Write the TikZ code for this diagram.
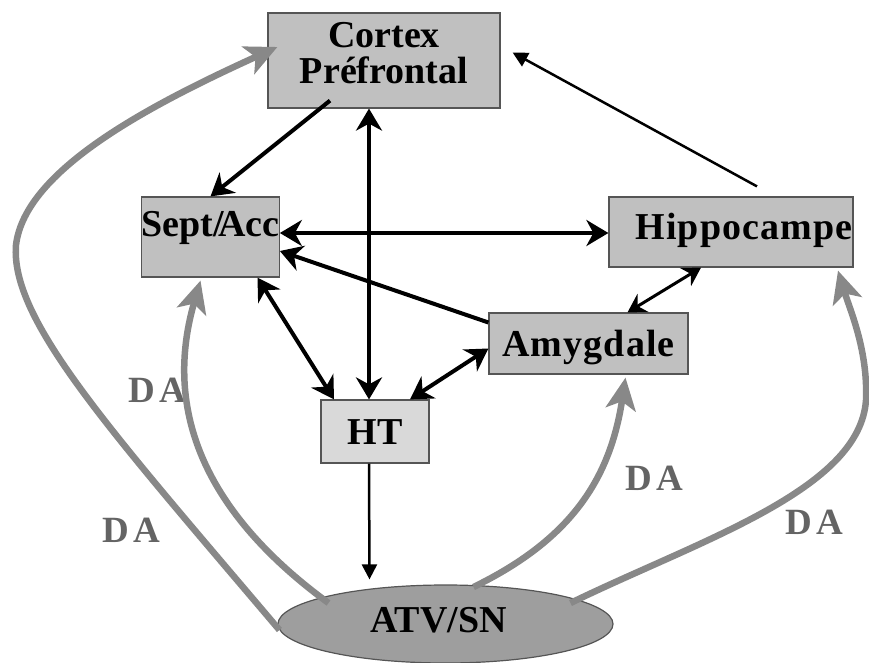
\documentclass[tikz,border=0pt]{standalone}
\usepackage{fontspec}
\setmainfont{Liberation Serif}
\newfontfamily\widefont[LetterSpace=3]{Liberation Serif}
\newfontfamily\dafont[LetterSpace=12]{Liberation Serif}
\usetikzlibrary{arrows.meta,shapes.geometric}
\definecolor{boxgrey}{RGB}{192,192,192}
\definecolor{htgrey}{RGB}{217,217,217}
\definecolor{ellgrey}{RGB}{158,158,158}
\definecolor{edgegrey}{RGB}{85,85,85}
\definecolor{arrowgrey}{RGB}{136,136,136}
\definecolor{labelgrey}{RGB}{100,100,100}

\begin{document}
\begin{tikzpicture}[x=1pt, y=-1pt,
      every node/.style = {inner sep=0pt},
      box/.style = {shape=rectangle, draw=edgegrey, line width=1.2pt, fill=boxgrey,
                    text height=25pt, text depth=0pt},
      boxtext/.style = {font=\fontsize{38}{36}\selectfont\bfseries},
      widetext/.style = {font=\widefont\fontsize{38}{36}\selectfont\bfseries},
      datext/.style = {font=\dafont\fontsize{37}{36}\selectfont\bfseries, text=labelgrey,
                       text height=25pt, text depth=0pt},
      blk/.style = {line width=4pt, >={Stealth[length=22pt,width=26pt,inset=7pt]}},
      midarr/.style = {line width=3pt, >={Stealth[length=18pt,width=21pt,inset=6pt]}},
      thinarr/.style = {line width=2.5pt, >={Triangle[length=15pt,width=15pt]}},
      dagrey/.style = {draw=arrowgrey, line width=6.5pt,
                       -{Stealth[length=32pt,width=30pt,inset=8pt]}}]
    \useasboundingbox (0,0) rectangle (869,663);

    % the boxes
    \node[box, minimum width=232pt, minimum height=95pt,
          label={[boxtext, align=center, yshift=7pt]center:Cortex\\Préfrontal}] (cortex) at (384,60.5) {};
    \node[box, boxtext, minimum width=135pt, minimum height=80pt, text depth=27pt] (sept) at (210.5,237) {Sept/\kern-6pt Acc};
    \node[box, widetext, minimum width=244pt, minimum height=70pt, text depth=11pt] (hippo) at (731,232) {\hspace*{26pt}Hippocampe};
    \node[box, widetext, minimum width=199pt, minimum height=61pt] (amyg) at (588.5,343.5) {Amygdale};
    \node[box, boxtext, fill=htgrey, minimum width=108pt, minimum height=63pt] (ht) at (375,431.5) {HT};
    \node[shape=ellipse, draw=edgegrey, line width=1.2pt, fill=ellgrey, boxtext,
          minimum width=335pt, minimum height=78pt, text height=25pt, text depth=8pt] (atv) at (445.5,624) {ATV/SN\hspace*{14pt}};

    % DA labels
    \node[datext] (da1) at (157,390) {DA};
    \node[datext] (da2) at (131,530) {DA};
    \node[datext] (da3) at (654,478) {DA};
    \node[datext] (da4) at (814,522) {DA};

    \coordinate (lbend) at (16,245);
    \coordinate (hbend) at (866,400);

    % black connections
    \draw[blk,->] ([xshift=-54pt,yshift=8pt]cortex.south) -- (sept.north);
    \draw[blk,<->] ([xshift=-15pt]cortex.south) -- ([xshift=-6pt]ht.north);
    \draw[blk,<->] ([yshift=4pt]sept.east) -- ([yshift=-1pt]hippo.west);
    \draw[blk,->] ([yshift=21pt]amyg.west) -- ([yshift=-14pt]sept.east);
    \draw[blk,<->] ([xshift=47pt]sept.south) -- ([xshift=-41pt]ht.north);
    \draw[blk,<->] ([xshift=35pt]ht.north) -- ([yshift=-5pt]amyg.west);
    \draw[midarr,<->] ([xshift=39pt]amyg.north) -- ([xshift=-30pt]hippo.south);
    \draw[thinarr,->] ([xshift=26pt,yshift=10pt]hippo.north) -- ([xshift=12pt,yshift=8pt]cortex.east);
    \draw[thinarr,->] ([xshift=-6pt]ht.south) -- ([xshift=-76pt,yshift=5pt]atv.north);

    % dopamine paths
    \draw[dagrey] ([xshift=2pt,yshift=-6pt]atv.west) .. controls (110,430) and (10,320) .. (lbend)
          .. controls (25,170) and (150,105) .. ([xshift=10pt,yshift=13.5pt]cortex.west);
    \draw[dagrey] ([xshift=-117pt,yshift=21pt]atv.center) .. controls (215,520) and (160,420) .. ([xshift=-10pt,yshift=-3pt]sept.south);
    \draw[dagrey] ([xshift=28pt,yshift=37pt]atv.center) .. controls (570,540) and (610,480) .. ([xshift=37pt,yshift=-3pt]amyg.south);
    \draw[dagrey] ([xshift=125pt,yshift=21pt]atv.center) .. controls (700,540) and (860,490) .. (hbend)
          .. controls (868,350) and (850,310) .. ([xshift=107pt,yshift=-3pt]hippo.south);
\end{tikzpicture}
\end{document}
